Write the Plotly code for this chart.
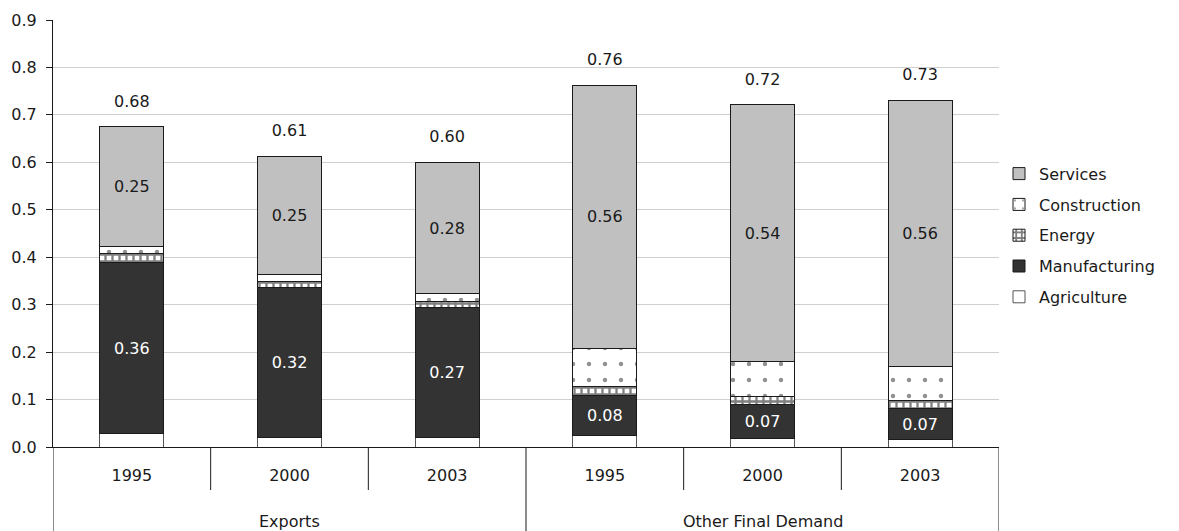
import plotly.graph_objects as go

groups = ["Exports", "Exports", "Exports", "Other Final Demand", "Other Final Demand", "Other Final Demand"]
years = ["1995", "2000", "2003", "1995", "2000", "2003"]

agriculture = [0.028, 0.019, 0.019, 0.025, 0.017, 0.015]
manufacturing = [0.360, 0.317, 0.274, 0.083, 0.072, 0.066]
energy = [0.020, 0.012, 0.014, 0.019, 0.017, 0.016]
construction = [0.014, 0.016, 0.016, 0.080, 0.075, 0.072]
services = [0.253, 0.249, 0.277, 0.556, 0.540, 0.562]

FONT = "DejaVu Sans"
TXT = "#1a1a1a"
pos = list(range(len(years)))
totals = [a + m + e + c + s for a, m, e, c, s in zip(agriculture, manufacturing, energy, construction, services)]

fig = go.Figure()
line = dict(color="#1a1a1a", width=1)

fig.add_bar(x=pos, y=agriculture, name="Agriculture", legendgroup="a", legendrank=5,
            marker=dict(color="white", line=dict(color="#555555", width=1)))
fig.add_bar(x=pos, y=manufacturing, name="Manufacturing", legendgroup="m", legendrank=4,
            marker=dict(color="#333333", line=line),
            texttemplate="%{y:.2f}", textposition="inside", insidetextanchor="middle",
            textfont=dict(color="white", size=16, family=FONT))
fig.add_bar(x=pos, y=energy, name="Energy", legendgroup="e", legendrank=3,
            marker=dict(color="white", line=line,
                        pattern=dict(shape="+", fgcolor="#000000", bgcolor="white", size=7, solidity=0.55)))
fig.add_bar(x=pos, y=construction, name="Construction", legendgroup="c", legendrank=2,
            marker=dict(color="white", line=line,
                        pattern=dict(shape=".", fgcolor="#222222", bgcolor="white", size=16, solidity=0.06)))
fig.add_bar(x=pos, y=services, name="Services", legendgroup="s", legendrank=1,
            marker=dict(color="#c0c0c0", line=line),
            texttemplate="%{y:.2f}", textposition="inside", insidetextanchor="middle",
            textfont=dict(color=TXT, size=16, family=FONT))
fig.add_scatter(x=pos, y=totals, mode="markers+text", text=[f"{t:.2f}" for t in totals],
                marker=dict(size=24, color="rgba(0,0,0,0)"),
                textposition="top center", showlegend=False, hoverinfo="skip",
                textfont=dict(color=TXT, size=16, family=FONT))

H = 427.0
shapes = []
for i in range(len(pos) - 1):
    same = groups[i] == groups[i + 1]
    shapes.append(dict(type="line", xref="x", yref="paper", x0=i + 0.5, x1=i + 0.5,
                       y0=0, y1=(-43 / H) if same else -0.3, line=dict(color="#1a1a1a", width=1)))
shapes.append(dict(type="line", xref="x", yref="paper", x0=len(pos) - 0.5, x1=len(pos) - 0.5,
                   y0=0, y1=-0.3, line=dict(color="#1a1a1a", width=1)))
shapes.append(dict(type="line", xref="x", yref="paper", x0=-0.5, x1=-0.5,
                   y0=0, y1=-0.3, line=dict(color="#1a1a1a", width=1)))

annotations = []
for g in dict.fromkeys(groups):
    idx = [i for i, gg in enumerate(groups) if gg == g]
    annotations.append(dict(x=sum(idx) / len(idx), xref="x", y=-74 / H, yref="paper",
                            text=g, showarrow=False, yanchor="middle",
                            font=dict(size=16, family=FONT, color=TXT)))

fig.update_layout(
    width=1179, height=531,
    margin=dict(l=53, r=180, t=20, b=84, autoexpand=False),
    barmode="stack", bargap=0.594,
    plot_bgcolor="white", paper_bgcolor="white",
    font=dict(family=FONT, size=16, color=TXT),
    shapes=shapes, annotations=annotations,
    legend=dict(x=1.0, xanchor="left", y=0.496, yanchor="middle",
                traceorder="grouped", tracegroupgap=7,
                font=dict(size=16, family=FONT, color=TXT)),
    xaxis=dict(range=[-0.5, len(pos) - 0.5], tickvals=pos, ticktext=years, ticks="",
               showline=True, linecolor="#1a1a1a", linewidth=1, showgrid=False,
               zeroline=False, ticklabelstandoff=14, tickfont=dict(size=16), automargin=False),
    yaxis=dict(range=[0, 0.9], dtick=0.1, tickformat=".1f", ticks="outside", ticklen=6,
               tickcolor="#1a1a1a", showline=True, linecolor="#1a1a1a", linewidth=1,
               gridcolor="#cfcfcf", zeroline=False, ticklabelstandoff=6, tickfont=dict(size=16),
               automargin=False),
)

fig.write_html("out.html", config={"displayModeBar": False},
               post_script="document.body.style.margin='0';document.body.style.overflow='hidden';")
